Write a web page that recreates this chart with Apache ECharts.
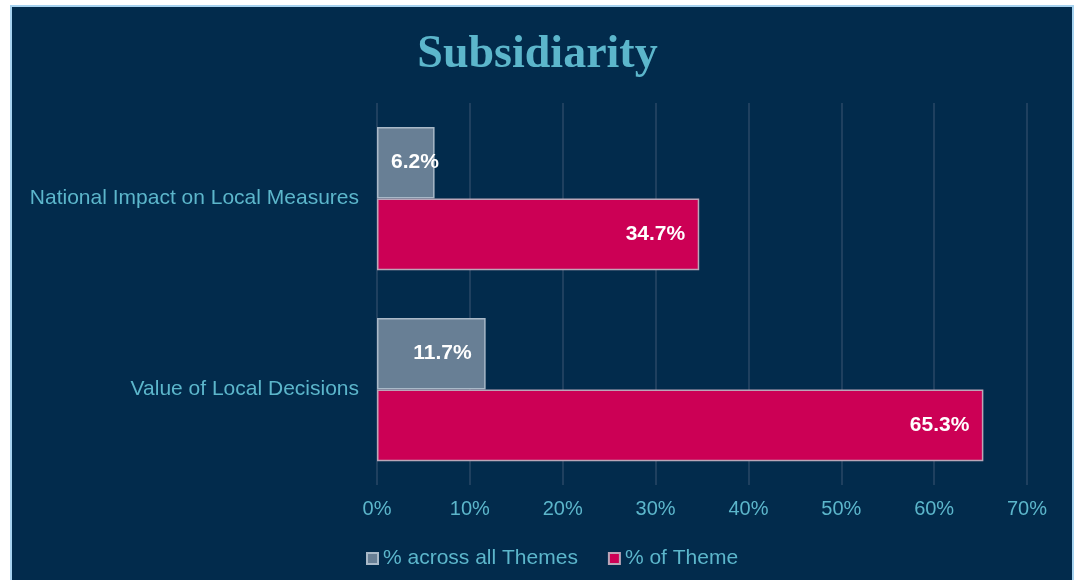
<!DOCTYPE html>
<html>
<head>
<meta charset="utf-8">
<title>Subsidiarity</title>
<script src="https://cdn.jsdelivr.net/npm/echarts@6/dist/echarts.min.js"></script>
<style>
  html, body { margin: 0; padding: 0; background: #fff; }
  .frame {
    position: absolute; left: 10px; top: 5px; width: 1060px; height: 580px;
    border: 2px solid #a6d2ef; border-bottom: none; background: #022b4c;
  }
  #chart { position: absolute; left: 0; top: 0; width: 1075px; height: 580px; }
</style>
</head>
<body>
<div class="frame"></div>
<div id="chart"></div>
<script>
// categories (top to bottom)
const categories = ['National Impact on Local Measures', 'Value of Local Decisions']
const seriesNames = ['% across all Themes', '% of Theme']
const acrossAllThemes = [6.2, 11.7]
const ofTheme = [34.7, 65.3]
const xTicks = [0, 10, 20, 30, 40, 50, 60, 70]

const TEAL = '#5cb6cb'
const GRAY = '#687f95'
const PINK = '#cc0055'

const chart = echarts.init(document.getElementById('chart'))

function barLabel(values) {
  // short bars get their label pushed to the left edge, like the original
  return values.map(v => ({
    value: v,
    label: { position: v < 8 ? 'insideLeft' : 'insideRight' },
  }))
}

chart.setOption({
  backgroundColor: 'transparent',
  animation: false,
  title: {
    text: 'Subsidiarity',
    left: 'center',
    top: 27,
    textStyle: { fontFamily: 'Liberation Serif', fontWeight: 'bold', fontSize: 46, color: TEAL },
  },
  legend: {
    left: 361,
    top: 543,
    icon: 'rect',
    itemWidth: 11,
    itemHeight: 11,
    itemGap: 30,
    textStyle: { fontFamily: 'Liberation Sans', fontSize: 21, color: TEAL },
    data: seriesNames,
  },
  grid: { left: 377, right: 48, top: 103, bottom: 95, containLabel: false },
  xAxis: {
    type: 'value',
    min: xTicks[0],
    max: xTicks[xTicks.length - 1],
    interval: 10,
    axisLine: { show: false },
    axisTick: { show: false },
    axisLabel: { color: TEAL, fontFamily: 'Liberation Sans', fontSize: 20, margin: 14, formatter: '{value}%' },
    splitLine: { lineStyle: { color: '#2a4866', width: 1.5 } },
  },
  yAxis: {
    type: 'category',
    inverse: true,
    data: categories,
    axisLine: { show: false },
    axisTick: { show: false },
    axisLabel: { color: TEAL, fontFamily: 'Liberation Sans', fontSize: 21, margin: 18 },
  },
  series: [
    {
      name: seriesNames[0],
      type: 'bar',
      data: barLabel(acrossAllThemes),
      barGap: 0,
      barCategoryGap: '25%',
      itemStyle: { color: GRAY, borderColor: '#a9b9c8', borderWidth: 1.5 },
      label: {
        show: true, distance: 14, color: '#fff', fontFamily: 'Liberation Sans', fontWeight: 'bold', fontSize: 21,
        formatter: p => p.value.toFixed(1) + '%',
      },
    },
    {
      name: seriesNames[1],
      type: 'bar',
      data: barLabel(ofTheme),
      barGap: 0,
      barCategoryGap: '25%',
      itemStyle: { color: PINK, borderColor: '#bba6b8', borderWidth: 1.5 },
      label: {
        show: true, distance: 14, color: '#fff', fontFamily: 'Liberation Sans', fontWeight: 'bold', fontSize: 21,
        formatter: p => p.value.toFixed(1) + '%',
      },
    },
  ],
})
</script>
</body>
</html>
